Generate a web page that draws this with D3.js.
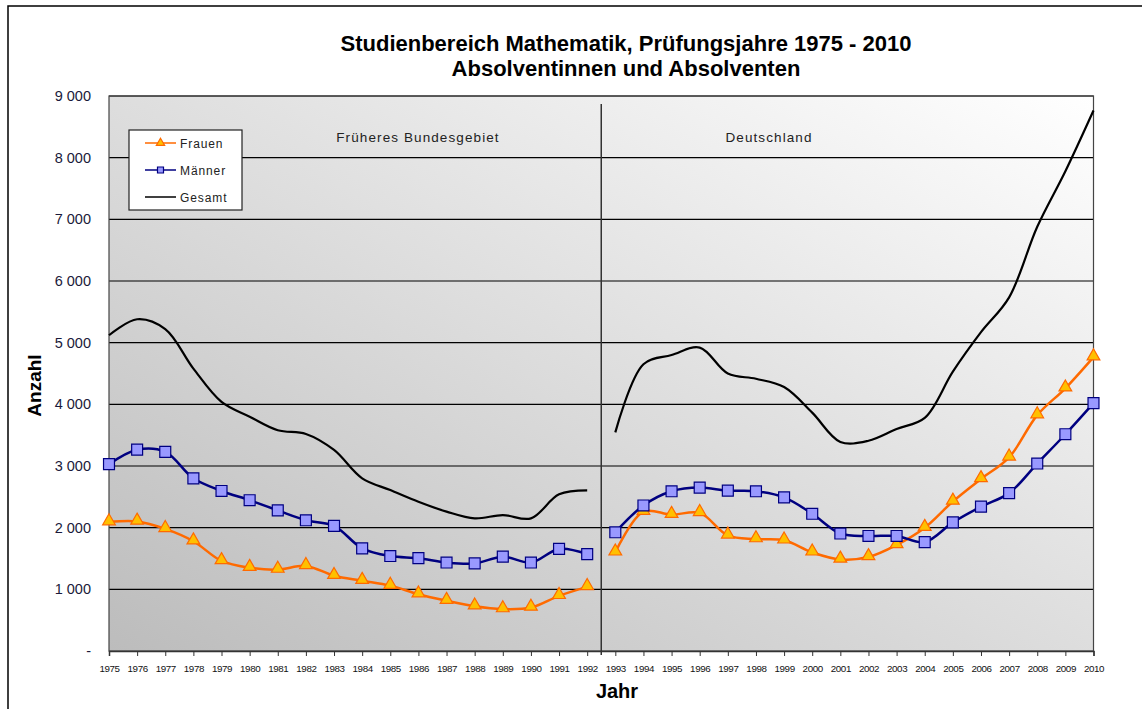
<!DOCTYPE html>
<html>
<head>
<meta charset="utf-8">
<script src="https://cdn.jsdelivr.net/npm/d3@7"></script>
<style>
  body { margin: 0; background: #fff; }
  text { font-family: Arial, "Liberation Sans", sans-serif; }
</style>
</head>
<body>
<div id="chart"></div>
<script>
/********************* Data *********************/
const years = d3.range(1975, 2011);
const frauen = [2090, 2100, 1980, 1780, 1460, 1350, 1320, 1380, 1220, 1140, 1060, 920, 815, 725, 680, 705, 895, 1040,
  1600, 2260, 2210, 2240, 1875, 1815, 1795, 1600, 1485, 1525, 1720, 2000, 2425, 2790, 3140, 3825, 4260, 4765];
const maenner = [3030, 3265, 3230, 2800, 2595, 2445, 2280, 2120, 2030, 1665, 1540, 1505, 1435, 1420, 1530, 1435, 1655, 1570,
  1925, 2360, 2590, 2650, 2600, 2590, 2490, 2225, 1905, 1865, 1865, 1765, 2085, 2340, 2560, 3040, 3515, 4020];
const gesamt = [5120, 5380, 5220, 4580, 4040, 3800, 3580, 3520, 3260, 2800, 2610, 2420, 2260, 2150, 2205, 2150, 2540, 2605,
  3545, 4650, 4800, 4920, 4500, 4415, 4280, 3865, 3390, 3410, 3600, 3780, 4530, 5170, 5735, 6880, 7780, 8765];
const yTicks = d3.range(0, 9001, 1000);
const splitYear = 1992; // last year of "Früheres Bundesgebiet"
const regions = ["Früheres Bundesgebiet", "Deutschland"];

/********************* Layout *********************/
const width = 1142, height = 709;
const plot = { left: 109, right: 1093.5, top: 96, bottom: 651 };

const svg = d3.select("#chart").append("svg")
  .attr("width", width)
  .attr("height", height);

// outer chart frame (runs off the right/bottom of the picture)
svg.append("rect")
  .attr("x", 8).attr("y", 6)
  .attr("width", width + 20).attr("height", height + 20)
  .attr("fill", "#fff").attr("stroke", "#000").attr("stroke-width", 1.5);

const defs = svg.append("defs");
const grad = defs.append("linearGradient")
  .attr("id", "bg")
  .attr("x1", "0").attr("y1", "1").attr("x2", "1").attr("y2", "0");
grad.append("stop").attr("offset", "0%").attr("stop-color", "#bcbcbc");
grad.append("stop").attr("offset", "100%").attr("stop-color", "#ffffff");

const x = d3.scaleLinear().domain([1975, 2010]).range([plot.left, plot.right]);
const y = d3.scaleLinear().domain([0, 9000]).range([plot.bottom, plot.top]);

svg.append("rect")
  .attr("x", plot.left).attr("y", plot.top)
  .attr("width", plot.right - plot.left).attr("height", plot.bottom - plot.top)
  .attr("fill", "url(#bg)");

// gridlines
svg.append("g")
  .selectAll("line")
  .data(yTicks.slice(1))
  .join("line")
  .attr("x1", plot.left).attr("x2", plot.right)
  .attr("y1", (d) => y(d)).attr("y2", (d) => y(d))
  .attr("stroke", "#000").attr("stroke-width", 1.2);

svg.append("rect")
  .attr("x", plot.left).attr("y", plot.top)
  .attr("width", plot.right - plot.left).attr("height", plot.bottom - plot.top)
  .attr("fill", "none").attr("stroke", "#444").attr("stroke-width", 1.2);

// divider between the two periods
const xSplit = (x(splitYear) + x(splitYear + 1)) / 2;
svg.append("line")
  .attr("x1", xSplit).attr("x2", xSplit)
  .attr("y1", 104).attr("y2", plot.bottom + 4)
  .attr("stroke", "#333").attr("stroke-width", 1.5);

const regionX = [418, 769];
svg.selectAll(".region")
  .data(regions)
  .join("text")
  .attr("class", "region")
  .attr("x", (d, i) => regionX[i])
  .attr("y", 142)
  .attr("text-anchor", "middle")
  .attr("font-family", "'DejaVu Sans', Verdana, sans-serif")
  .attr("font-size", 13.5)
  .attr("letter-spacing", 1.1)
  .attr("fill", "#222")
  .text((d) => d);

/********************* Axes *********************/
const xAxis = svg.append("g")
  .attr("transform", `translate(0,${plot.bottom})`)
  .call(d3.axisBottom(x).tickValues(years).tickFormat(d3.format("d")).tickSize(5).tickPadding(9));
xAxis.select(".domain").attr("stroke", "#333").attr("stroke-width", 1.5);
xAxis.selectAll(".tick line").attr("stroke", "#333");
xAxis.selectAll("text")
  .attr("font-size", 9.8)
  .attr("font-family", "'Liberation Sans Narrow', 'Arial Narrow', Arial, sans-serif")
  .attr("letter-spacing", -0.4)
  .attr("fill", "#111");

const yAxis = svg.append("g")
  .attr("transform", `translate(${plot.left},0)`)
  .call(d3.axisLeft(y).tickValues(yTicks).tickSize(0).tickPadding(18)
    .tickFormat((d) => (d === 0 ? "-" : d3.format(",")(d).replace(",", " "))));
yAxis.select(".domain").remove();
yAxis.selectAll("text").attr("font-size", 14.5).attr("fill", "#1a1a3a");

svg.append("text")
  .attr("transform", `translate(41,${(plot.top + plot.bottom) / 2 + 12}) rotate(-90)`)
  .attr("text-anchor", "middle")
  .attr("font-size", 19).attr("font-weight", "bold")
  .text("Anzahl");

svg.append("text")
  .attr("x", 617).attr("y", 698)
  .attr("text-anchor", "middle")
  .attr("font-size", 20).attr("font-weight", "bold")
  .text("Jahr");

const title = svg.append("text")
  .attr("text-anchor", "middle")
  .attr("font-size", 22).attr("font-weight", "bold");
title.append("tspan").attr("x", 626).attr("y", 51).text("Studienbereich Mathematik, Prüfungsjahre 1975 - 2010");
title.append("tspan").attr("x", 626).attr("y", 76).text("Absolventinnen und Absolventen");

/********************* Series *********************/
const series = [
  { name: "Frauen", values: frauen, color: "#ff6a00", width: 2.5, marker: "triangle" },
  { name: "Männer", values: maenner, color: "#000080", width: 2.5, marker: "square" },
  { name: "Gesamt", values: gesamt, color: "#000", width: 2.2, marker: null }
];

const line = d3.line()
  .x((d) => x(d.year))
  .y((d) => y(d.value))
  .curve(d3.curveCatmullRom.alpha(0.5));

const triangle = d3.symbol().type(d3.symbolTriangle).size(70);
const square = d3.symbol().type(d3.symbolSquare).size(120);

function drawMarker(sel, type) {
  if (type === "triangle") {
    sel.attr("d", triangle).attr("fill", "#ffc000").attr("stroke", "#ff6a00").attr("stroke-width", 1.2);
  } else {
    sel.attr("d", square).attr("fill", "#9999ff").attr("stroke", "#000080").attr("stroke-width", 1.2);
  }
}

// draw in order Gesamt, Frauen, Männer
[series[2], series[0], series[1]].forEach((s) => {
  const pts = years.map((yr, i) => ({ year: yr, value: s.values[i] }));
  const parts = [pts.filter((p) => p.year <= splitYear), pts.filter((p) => p.year > splitYear)];
  const g = svg.append("g");
  g.selectAll("path.line")
    .data(parts)
    .join("path")
    .attr("class", "line")
    .attr("d", line)
    .attr("fill", "none")
    .attr("stroke", s.color)
    .attr("stroke-width", s.width);
  if (s.marker) {
    g.selectAll("path.mk")
      .data(pts)
      .join("path")
      .attr("class", "mk")
      .attr("transform", (d) => `translate(${x(d.year)},${y(d.value) + (s.marker === "triangle" ? -1 : 0)})`)
      .call(drawMarker, s.marker);
  }
});

/********************* Legend *********************/
const legend = svg.append("g").attr("transform", "translate(129,130)");
legend.append("rect")
  .attr("width", 113).attr("height", 80)
  .attr("fill", "#fff").attr("stroke", "#222").attr("stroke-width", 1.2);

const items = legend.selectAll("g.item")
  .data(series)
  .join("g")
  .attr("class", "item")
  .attr("transform", (d, i) => `translate(0,${13 + i * 27})`);
items.append("line")
  .attr("x1", 16).attr("x2", 47)
  .attr("stroke", (d) => d.color)
  .attr("stroke-width", 1.5);
items.filter((d) => d.marker)
  .append("path")
  .attr("transform", "translate(31.5,0)")
  .each(function (d) {
    d3.select(this).call(drawMarker, d.marker);
  })
  .attr("d", (d) => (d.marker === "triangle" ? d3.symbol().type(d3.symbolTriangle).size(30)() : d3.symbol().type(d3.symbolSquare).size(36)()));
items.append("text")
  .attr("x", 51).attr("y", 4.5)
  .attr("font-family", "'DejaVu Sans', Verdana, sans-serif")
  .attr("font-size", 12)
  .attr("letter-spacing", 0.9)
  .attr("fill", "#222")
  .text((d) => d.name);
</script>
</body>
</html>
